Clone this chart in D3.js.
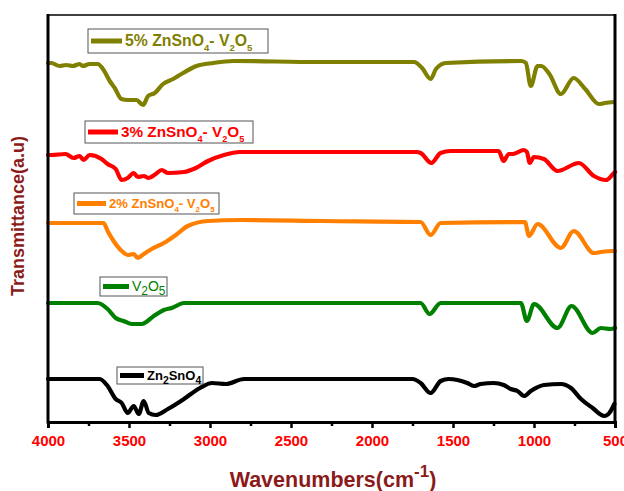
<!DOCTYPE html>
<html lang="en">
<head>
<meta charset="utf-8">
<title>FTIR</title>
<script src="https://cdn.jsdelivr.net/npm/d3@7"></script>
<style>
  body { margin: 0; background: #fff; }
  svg { display: block; font-family: Arial, "Liberation Sans", sans-serif; }
</style>
</head>
<body>
<script>
// wavenumber (cm-1), transmittance (a.u., stacked offsets)
var zn2sno4 = [[4000,4.3],[3681,4.3],[3632,3.6],[3582,2.3],[3545,1.9],[3508,0.9],[3471,1.6],[3440,0.8],[3409,2.1],[3378,0.9],[3335,0.7],[3260,1.3],[3161,2.3],[3062,3.4],[2988,3.9],[2902,3.8],[2790,4.3],[1750,4.3],[1700,3.9],[1638,2.9],[1576,4.1],[1527,4.3],[1412,3.9],[1371,3.6],[1329,3.8],[1249,3.9],[1187,3.7],[1144,3.3],[1102,3.1],[1061,2.6],[1020,3.1],[938,3.7],[834,3.8],[772,3.4],[710,2.3],[638,1.4],[566,0.6],[535,0.9],[504,1.8]];
var v2o5 = [[4000,11.9],[3694,11.9],[3632,11.3],[3582,10.4],[3533,10.1],[3483,9.8],[3421,9.8],[3347,10.6],[3285,11.2],[3236,11.4],[3161,11.9],[2500,11.9],[1700,11.9],[1645,10.8],[1576,11.9],[1081,11.9],[1044,10.1],[1000,11.8],[855,9.4],[768,11.6],[638,8.9],[588,9.4],[527,9.3],[500,9.4]];
var zs2 = [[4000,19.9],[3657,19.9],[3632,19.1],[3595,18.1],[3545,17.1],[3508,16.7],[3471,16.8],[3446,16.4],[3409,16.8],[3360,17.3],[3285,17.9],[3211,18.7],[3137,19.6],[3012,20.1],[2815,20.2],[2300,20.1],[1700,20.0],[1638,18.7],[1576,19.9],[1056,20.0],[1031,18.6],[978,19.8],[834,17.4],[755,19.1],[630,16.9],[588,17.0],[514,17.1],[500,17.1]];
var zs3 = [[4000,26.7],[3978,26.7],[3892,26.8],[3842,26.4],[3805,26.6],[3780,26.2],[3743,26.7],[3669,26.3],[3632,25.8],[3582,25.3],[3545,24.2],[3508,24.4],[3471,24.9],[3446,24.5],[3409,24.6],[3379,24.4],[3335,24.8],[3298,25.2],[3260,24.9],[3161,25.0],[3087,25.4],[3012,26.1],[2914,26.7],[2815,27.0],[2320,27.0],[1725,27.0],[1700,26.9],[1633,25.9],[1577,26.9],[1515,27.1],[1218,27.1],[1188,26.1],[1156,26.8],[1131,26.8],[1063,27.2],[1044,27.0],[1026,25.9],[1001,26.5],[939,26.3],[855,25.1],[723,25.9],[630,24.6],[556,24.2],[512,24.8],[500,25.0]];
var zs5 = [[4000,35.9],[3980,35.9],[3929,35.6],[3887,35.7],[3847,35.6],[3805,35.8],[3785,35.6],[3743,35.8],[3692,35.8],[3661,35.3],[3619,34.1],[3588,33.4],[3547,32.3],[3506,32.2],[3454,32.2],[3413,31.7],[3382,32.6],[3341,32.9],[3290,33.8],[3228,34.3],[3166,34.9],[3083,35.6],[2980,35.9],[2856,36.1],[2330,36.0],[1740,36.0],[1691,35.4],[1638,34.3],[1605,35.3],[1544,35.9],[1077,36.1],[1050,35.9],[1020,33.6],[978,35.6],[955,35.6],[905,34.8],[834,32.8],[755,34.4],[684,33.3],[599,31.8],[562,31.9],[506,32.0]];

var majorTicks = [4000, 3500, 3000, 2500, 2000, 1500, 1000, 500];
var minorTicks = [3750, 3250, 2750, 2250, 1750, 1250, 750];

var width = 624, height = 491;
var m = { left: 48, right: 615, top: 15, bottom: 422 };

var svg = d3.select("body").append("svg")
    .attr("width", width)
    .attr("height", height);

var x = d3.scaleLinear().domain([4000, 500]).range([m.left, m.right]);
var y = d3.scaleLinear().domain([0, 40.7]).range([m.bottom, m.top]);

var line = d3.line()
    .x(d => x(d[0]))
    .y(d => y(d[1]))
    .curve(d3.curveMonotoneX);

var series = [
    { data: zs5, color: "#808000" },
    { data: zs3, color: "#ff0000" },
    { data: zs2, color: "#ff8000" },
    { data: v2o5, color: "#008000" },
    { data: zn2sno4, color: "#000000" }
];

svg.append("g")
    .attr("fill", "none")
    .attr("stroke-width", 4.2)
    .attr("stroke-linejoin", "round")
    .attr("stroke-linecap", "round")
    .selectAll("path")
    .data(series)
    .join("path")
    .attr("stroke", d => d.color)
    .attr("d", d => line(d.data));

// frame
svg.append("line").attr("x1", m.left).attr("x2", m.right).attr("y1", m.top).attr("y2", m.top)
    .attr("stroke", "#000").attr("stroke-width", 1.5);
svg.append("line").attr("x1", m.left).attr("x2", m.left).attr("y1", m.top - 1).attr("y2", m.bottom + 1.5)
    .attr("stroke", "#000").attr("stroke-width", 3);
svg.append("line").attr("x1", m.right).attr("x2", m.right).attr("y1", m.top - 1).attr("y2", m.bottom + 1.5)
    .attr("stroke", "#000").attr("stroke-width", 3);

// x axis
var xAxis = svg.append("g")
    .attr("transform", `translate(0,${m.bottom})`)
    .call(d3.axisBottom(x).tickValues(majorTicks).tickSize(6).tickPadding(7).tickFormat(d3.format("d")));
xAxis.select(".domain").attr("stroke-width", 3);
xAxis.selectAll(".tick line").attr("stroke-width", 2.5);
xAxis.selectAll("text")
    .attr("fill", "#ff0000")
    .attr("font-size", 15)
    .attr("font-weight", "bold")
    .attr("font-family", "Arial, 'Liberation Sans', sans-serif");

var xMinor = svg.append("g")
    .attr("transform", `translate(0,${m.bottom})`)
    .call(d3.axisBottom(x).tickValues(minorTicks).tickSize(4).tickFormat(""));
xMinor.select(".domain").remove();
xMinor.selectAll(".tick line").attr("stroke-width", 2.5);

// axis titles
var xt = svg.append("text")
    .attr("x", 333)
    .attr("y", 487)
    .attr("text-anchor", "middle")
    .attr("fill", "#8b1a1a")
    .attr("font-size", 21.5)
    .attr("font-weight", "bold")
    .text("Wavenumbers(cm");
xt.append("tspan").attr("font-size", 17).attr("dy", -10).text("-1");
xt.append("tspan").attr("dy", 10).text(")");

svg.append("text")
    .attr("transform", "translate(24,216) rotate(-90)")
    .attr("text-anchor", "middle")
    .attr("fill", "#8b1a1a")
    .attr("font-size", 18)
    .attr("font-weight", "bold")
    .text("Transmittance(a.u)");

// legends
function legend(o) {
    var g = svg.append("g");
    g.append("rect")
        .attr("x", o.x).attr("y", o.y).attr("width", o.w).attr("height", o.h)
        .attr("fill", "#fff").attr("stroke", "#555").attr("stroke-width", 1);
    var cy = o.y + o.h / 2;
    g.append("line")
        .attr("x1", o.x + 3).attr("x2", o.x + 3 + o.lw)
        .attr("y1", cy).attr("y2", cy)
        .attr("stroke", o.color).attr("stroke-width", 5);
    var t = g.append("text")
        .attr("x", o.x + o.lw + 6)
        .attr("y", cy + o.fs * 0.34)
        .attr("fill", o.color)
        .attr("font-size", o.fs)
        .attr("font-weight", o.weight || "bold");
    var r = o.sub || 0.6;
    o.parts.forEach(p => {
        var s = t.append("tspan").text(p[0]);
        if (p[1]) s.attr("font-size", o.fs * r).attr("dy", o.fs * 0.3);
        else if (p[2]) s.attr("dy", -o.fs * 0.3);
    });
}

legend({ x: 88, y: 29, w: 180, h: 24, lw: 31, fs: 15.8, color: "#808000",
    parts: [["5% ZnSnO"], ["4", 1], ["- V", 0, 1], ["2", 1], ["O", 0, 1], ["5", 1]] });
legend({ x: 85, y: 121, w: 168, h: 22, lw: 30, fs: 15.3, color: "#ff0000",
    parts: [["3% ZnSnO"], ["4", 1], ["- V", 0, 1], ["2", 1], ["O", 0, 1], ["5", 1]] });
legend({ x: 74, y: 193, w: 145, h: 21, lw: 29, fs: 13.1, color: "#ff8000",
    parts: [["2% ZnSnO"], ["4", 1], ["- V", 0, 1], ["2", 1], ["O", 0, 1], ["5", 1]] });
legend({ x: 100, y: 277, w: 67, h: 19, lw: 26, fs: 14, sub: 0.85, color: "#008000", weight: "normal",
    parts: [["V"], ["2", 1], ["O", 0, 1], ["5", 1]] });
legend({ x: 117, y: 367, w: 86, h: 17, lw: 24, fs: 13, sub: 0.8, color: "#000000",
    parts: [["Zn"], ["2", 1], ["SnO", 0, 1], ["4", 1]] });
</script>
</body>
</html>
